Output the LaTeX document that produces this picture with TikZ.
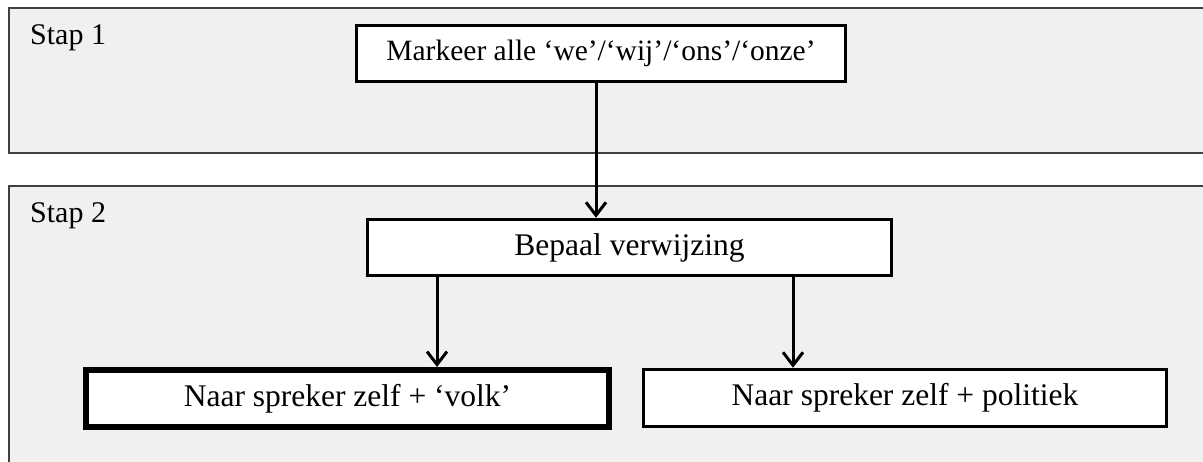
\documentclass[tikz,border=0pt]{standalone}
\usepackage{fontspec}
\setmainfont{Liberation Serif}
\usetikzlibrary{arrows.meta}
\begin{document}
\begin{tikzpicture}[x=1pt,y=-1pt,
  panel/.style={draw=black!75,line width=1.5pt,fill=black!6},
  stepbox/.style={draw=black,line width=3.5pt,fill=white,inner sep=0pt,
    minimum width=523pt,minimum height=56pt,
    font=\fontsize{31.5}{36}\selectfont},
  lbl/.style={anchor=base west,inner sep=0pt,font=\fontsize{30}{34}\selectfont},
  arr/.style={line width=3pt,-{Straight Barb[length=13pt,width=20pt,line width=3pt]}}]
\useasboundingbox (0,0) rectangle (1203,462);
\clip (0,0) rectangle (1203,462);
% panels
\draw[panel] (9,8) rectangle (1220,153);
\draw[panel] (9,186) rectangle (1220,480);
\node[lbl] (s1) at (30,45) {Stap 1};
\node[lbl] (s2) at (30,223) {Stap 2};
% boxes
\node[stepbox,minimum width=489pt,font=\fontsize{29.5}{34}\selectfont] (mark) at (601,53.5) {Markeer alle ‘we’/‘wij’/‘ons’/‘onze’};
\node[stepbox,minimum width=524pt] (bep) at (629.5,247.5) {Bepaal verwijzing};
\node[stepbox,line width=6pt,minimum height=57pt] (nl) at (347.5,398.5) {Naar spreker zelf + ‘volk’};
\node[stepbox,minimum height=57pt] (nr) at (905,398) {Naar spreker zelf + politiek};
% arrows
\draw[arr] ([xshift=-5pt]mark.south) -- ([xshift=-5pt]mark.south |- bep.north);
\draw[arr] ([xshift=-192.5pt]bep.south) -- ([xshift=-192.5pt]bep.south |- nl.north);
\draw[arr] ([xshift=163.5pt]bep.south) -- ([xshift=163.5pt]bep.south |- nr.north);
\end{tikzpicture}
\end{document}
